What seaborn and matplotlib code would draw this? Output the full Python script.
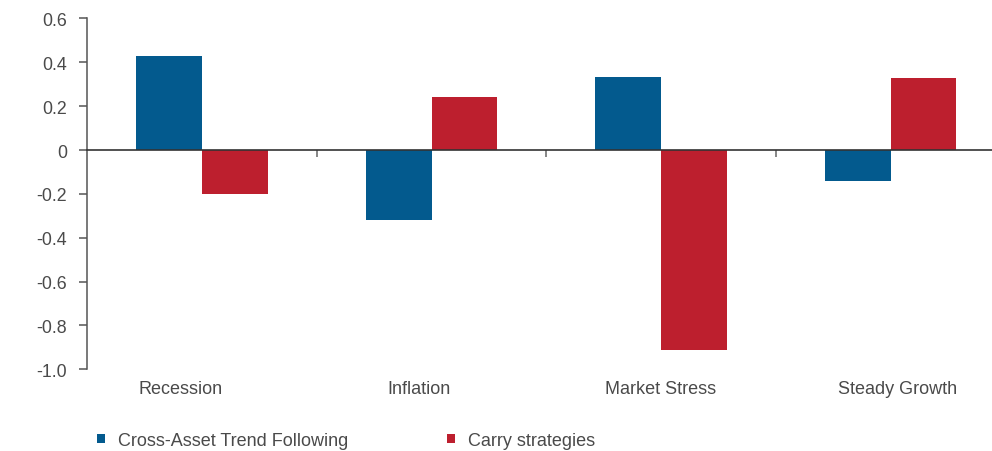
import pandas as pd
import seaborn as sns
import matplotlib.pyplot as plt
from matplotlib.transforms import blended_transform_factory

# ======================
# DATA
# ======================

regimes = ["Recession", "Inflation", "Market Stress", "Steady Growth"]
trend_following = [0.43, -0.32, 0.335, -0.14]
carry = [-0.20, 0.24, -0.91, 0.33]
series_names = ["Cross-Asset Trend Following", "Carry strategies"]
colors = ["#035A8E", "#BD1F2E"]

y_ticks = [0.6, 0.4, 0.2, 0, -0.2, -0.4, -0.6, -0.8, -1.0]
y_tick_labels = ["0.6", "0.4", "0.2", "0", "-0.2", "-0.4", "-0.6", "-0.8", "-1.0"]

# label centres are slightly off the group centres in the original
label_pos = [-0.095, 0.945, 2.0, 3.03]

df = pd.DataFrame({
    "regime": regimes * 2,
    "value": trend_following + carry,
    "series": [series_names[0]] * 4 + [series_names[1]] * 4,
})

# ======================
# PLOT
# ======================

sns.set_style("white")
plt.rcParams["font.family"] = ["Liberation Sans", "DejaVu Sans"]

fig = plt.figure(figsize=(9.92, 4.52), dpi=100)
ax = fig.add_axes([0.088, 0.1808, 0.912, 0.7761])

sns.barplot(
    data=df, x="regime", y="value", hue="series",
    palette=colors, saturation=1, width=0.572, linewidth=0, ax=ax,
)

handles, labels = ax.get_legend_handles_labels()
ax.get_legend().remove()

ax.set_xlim(-0.5, 3.442)
ax.set_ylim(-1.0, 0.6)
ax.set_xlabel("")
ax.set_ylabel("")

# y axis
ax.set_yticks(y_ticks)
ax.set_yticklabels(y_tick_labels, fontsize=12.8, color="#4a4a4a")
ax.tick_params(axis="y", direction="out", length=5.5, width=1.1,
               color="#555555", pad=9, left=True)

# x axis line through zero, ticks between groups
for s in ["top", "right"]:
    ax.spines[s].set_visible(False)
ax.spines["left"].set_color("#555555")
ax.spines["left"].set_linewidth(1.1)
ax.spines["bottom"].set_position(("data", 0))
ax.spines["bottom"].set_color("#333333")
ax.spines["bottom"].set_linewidth(1.2)
ax.set_xticks([0.5, 1.5, 2.5])
ax.set_xticklabels([])
ax.tick_params(axis="x", direction="out", length=5, width=1.1,
               color="#666666", bottom=True)

trans = blended_transform_factory(ax.transData, ax.transAxes)
for pos, name in zip(label_pos, regimes):
    ax.text(pos, -0.056, name, transform=trans, ha="center", va="center",
            fontsize=13, color="#4a4a4a")

fig.legend(
    handles, labels, loc="center left", bbox_to_anchor=(0.098, 0.024),
    ncol=2, frameon=False, fontsize=13, borderpad=0, borderaxespad=0,
    handlelength=0.42, handleheight=0.42, handletextpad=0.75,
    columnspacing=5.45, labelcolor="#4a4a4a",
)

plt.savefig("out.png", dpi=100)
